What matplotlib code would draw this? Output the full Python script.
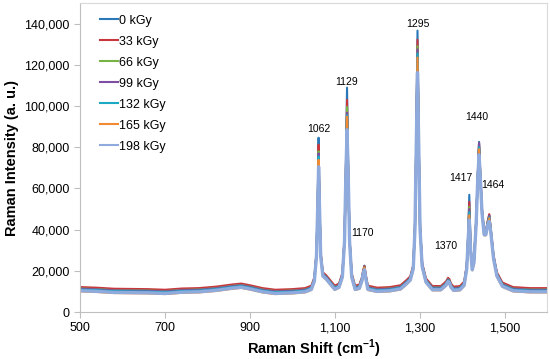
import numpy as np
import matplotlib.pyplot as plt
from matplotlib.ticker import FuncFormatter

plt.rcParams['font.family'] = ['Liberation Sans', 'DejaVu Sans']
plt.rcParams['mathtext.fontset'] = 'custom'
plt.rcParams['mathtext.rm'] = 'Liberation Sans'
plt.rcParams['mathtext.bf'] = 'Liberation Sans:bold'

# Raman shift (cm-1) and the lowest spectrum (198 kGy)
shift = [500, 540, 580, 620, 660, 700, 740, 780, 820, 860, 880, 900, 930, 960,
         1000, 1030, 1045, 1052, 1057, 1060, 1062, 1064, 1067, 1072, 1080, 1090,
         1100, 1110, 1118, 1123, 1126, 1129, 1132, 1135, 1140, 1148, 1158, 1164,
         1167, 1170, 1173, 1178, 1200, 1230, 1255, 1268, 1278, 1285, 1289, 1292,
         1295, 1298, 1301, 1306, 1315, 1330, 1350, 1362, 1367, 1370, 1374, 1380,
         1395, 1405, 1411, 1414, 1417, 1420, 1424, 1428, 1433, 1437, 1440, 1443,
         1447, 1452, 1456, 1460, 1464, 1468, 1474, 1482, 1495, 1520, 1560, 1600]
base = [10300, 10000, 9500, 9400, 9300, 9000, 9600, 9800, 10500, 11600, 12000, 11200, 9800, 9000,
        9300, 9800, 11000, 15000, 27000, 52000, 70500, 52000, 27000, 17500, 16000, 13500,
        11000, 12000, 17000, 34000, 64000, 88500, 64000, 34000, 17000, 11000, 11500, 15000,
        18500, 20500, 16500, 11000, 10000, 10300, 11200, 13500, 15500, 21000, 40000, 80000,
        116200, 80000, 40000, 22000, 14500, 10800, 10800, 13000, 14800, 14200, 12000, 10500,
        10800, 13000, 21000, 34000, 44700, 30000, 20500, 24000, 42000, 65000, 76300, 65000,
        48000, 37500, 37500, 42000, 44000, 38000, 26000, 17500, 12500, 10300, 9800, 9800]

doses = ['0 kGy', '33 kGy', '66 kGy', '99 kGy', '132 kGy', '165 kGy', '198 kGy']
colors = ['#2a78b8', '#c8373e', '#78b443', '#7d4ea2', '#1ca9c4', '#f28a32', '#8faadc']
offsets = [900, 1800, 1100, 1000, 600, -300, 0]

# peak apex heights per dose
peak_pos = [1062, 1129, 1170, 1295, 1417, 1440, 1464]
peak_0 = [84600, 108900, 22500, 136600, 56900, 82600, 47000]
peak_33 = [81200, 103000, 22300, 132200, 53500, 81800, 47500]
peak_66 = [78000, 99500, 21800, 129000, 51000, 80500, 46500]
peak_99 = [77000, 96700, 21600, 127500, 50000, 82000, 46800]
peak_132 = [75500, 95500, 21300, 125500, 48500, 80000, 46000]
peak_165 = [73900, 94800, 21500, 123500, 47000, 79000, 45500]
peak_198 = [70500, 88500, 20500, 116200, 44700, 76300, 44000]
peaks = [peak_0, peak_33, peak_66, peak_99, peak_132, peak_165, peak_198]

label_x = [1062, 1129, 1166, 1295, 1396, 1434, 1472, 1361]
label_y = [89000, 111800, 38400, 140000, 65100, 94800, 61700, 32100]
label_txt = ['1062', '1129', '1170', '1295', '1417', '1440', '1464', '1370']

fig = plt.figure(figsize=(5.5, 3.59), dpi=100)
ax = fig.add_axes([0.1455, 0.1309, 0.849, 0.8607])

x = np.array(shift, dtype=float)
for name, c, off, pk in zip(doses, colors, offsets, peaks):
    y = np.array(base, dtype=float) + off
    for p, v in zip(peak_pos, pk):
        y[shift.index(p)] = v
    lw = 2.4 if name == '198 kGy' else 1.5
    ax.plot(x, y, color=c, lw=lw, label=name)

for tx, ty, t in zip(label_x, label_y, label_txt):
    ax.text(tx, ty, t, ha='center', va='center', fontsize=7.5)

ax.set_xlim(500, 1600)
ax.set_ylim(0, 150000)
ax.set_xticks([500, 700, 900, 1100, 1300, 1500])
ax.set_yticks(np.arange(0, 140001, 20000))
fmt = FuncFormatter(lambda v, p: '{:,.0f}'.format(v))
ax.xaxis.set_major_formatter(fmt)
ax.yaxis.set_major_formatter(fmt)
ax.tick_params(labelsize=9, length=4, color='#bfbfbf', width=0.8)

for s in ['left', 'bottom']:
    ax.spines[s].set_color('#bfbfbf')
for s in ['top', 'right']:
    ax.spines[s].set_color('#d9d9d9')

ax.set_xlabel(r'Raman Shift (cm$^{\mathbf{-1}}$)', fontsize=10.5, fontweight='bold', labelpad=2)
ax.set_ylabel('Raman Intensity (a. u.)', fontsize=10.5, fontweight='bold', labelpad=4)

leg = ax.legend(loc='upper left', frameon=False, fontsize=9, handlelength=1.4,
                handletextpad=0.1, labelspacing=0.72, borderaxespad=0.3,
                bbox_to_anchor=(0.025, 0.99))
for h in leg.get_lines():
    h.set_linewidth(1.5)

fig.savefig('out.png', dpi=100)
